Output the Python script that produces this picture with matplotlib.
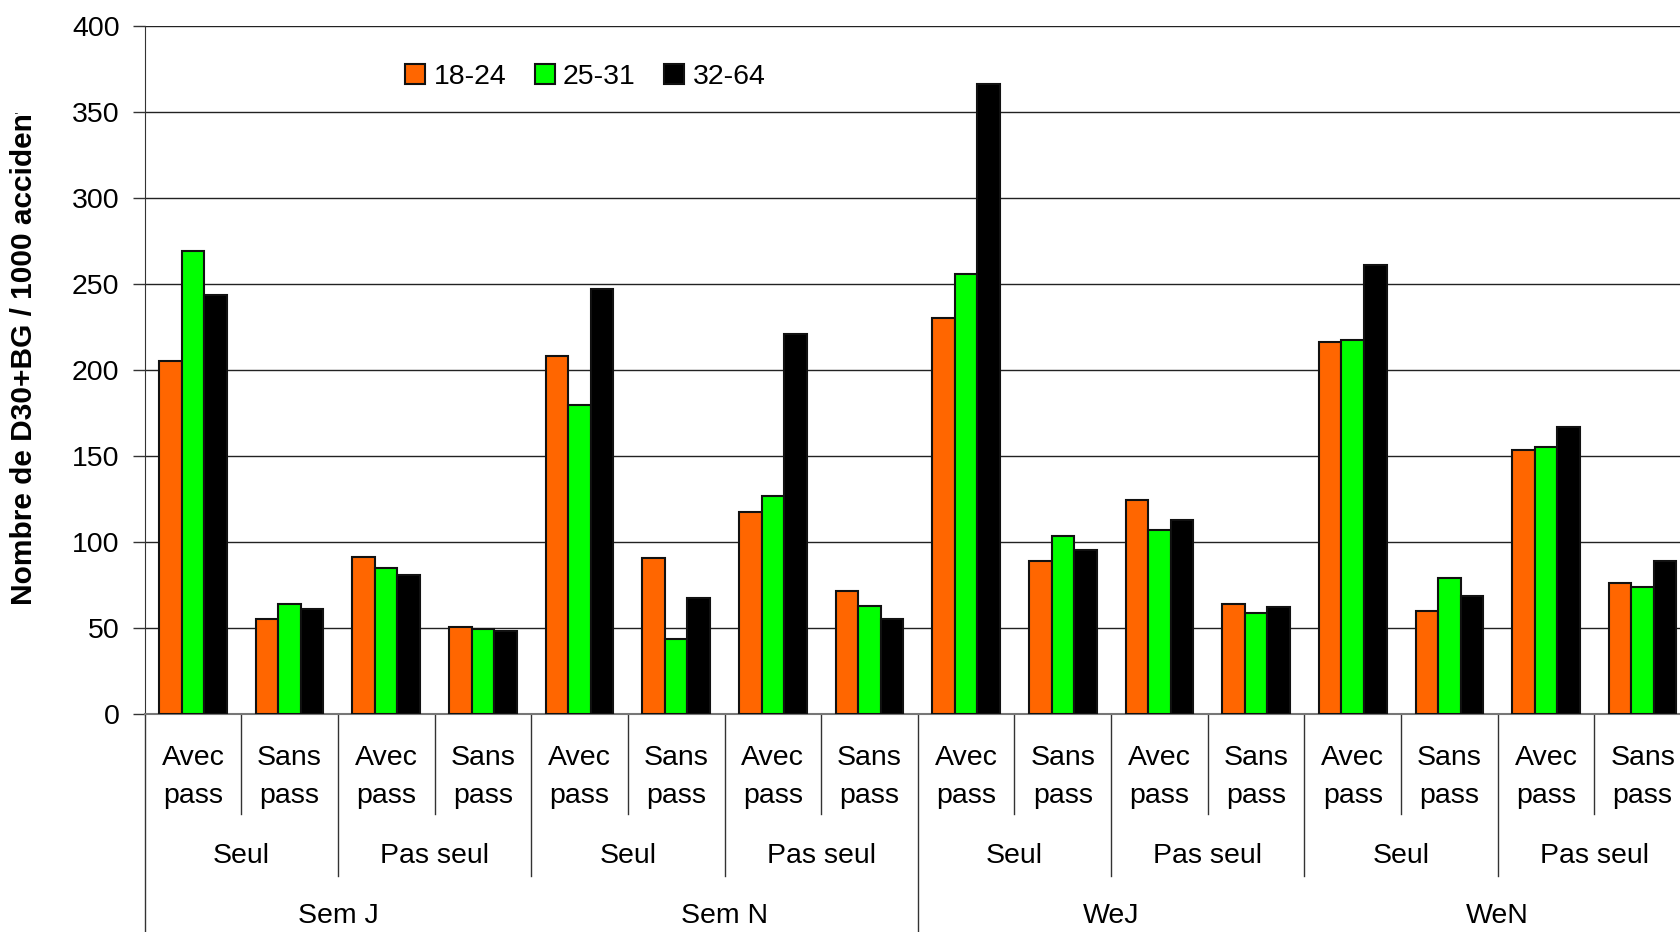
import numpy as np
import matplotlib
matplotlib.use("Agg")
import matplotlib.pyplot as plt
from matplotlib.transforms import Bbox

plt.rcParams['font.family'] = ['Liberation Sans', 'DejaVu Sans']

# data
series = ['18-24', '25-31', '32-64']
colors = ['#FF6600', '#00FF00', '#000000']
level1 = ['Avec\npass', 'Sans\npass'] * 8
level2 = ['Seul', 'Pas seul'] * 4
level3 = ['Sem J', 'Sem N', 'WeJ', 'WeN']

v_18_24 = [205, 54.8, 91, 50.5, 208, 90.3, 117, 71, 230, 88.5, 124, 63.6, 216, 59.8, 153.3, 76]
v_25_31 = [269, 64, 84.7, 49, 179.4, 43.6, 126.5, 62.3, 255.5, 103.4, 106.5, 58.6, 217.4, 79, 155, 73.5]
v_32_64 = [243.6, 61, 80.4, 48, 246.7, 67.3, 220.6, 54.8, 366, 95.3, 112.8, 61.7, 261, 68.5, 166.4, 88.5]
values = [v_18_24, v_25_31, v_32_64]

fs = 20.5
W, H = 1680, 932
fig = plt.figure(figsize=(W / 100, H / 100), dpi=100)
ax_left, ax_right, ax_top, ax_bot = 144.6, 1691.0, 25.7, 713.6
ax = fig.add_axes([ax_left / W, 1 - ax_bot / H, (ax_right - ax_left) / W, (ax_bot - ax_top) / H])

n = len(v_18_24)
x = np.arange(n) + 0.5
bw = 0.233
for i, (vals, c) in enumerate(zip(values, colors)):
    ax.bar(x + (i - 1) * bw, vals, bw, color=c, edgecolor='#111111', linewidth=1.5,
           label=series[i], zorder=3)

ax.set_xlim(0, n)
ax.set_ylim(0, 400)
ax.set_yticks(np.arange(0, 401, 50))
ax.tick_params(axis='y', labelsize=fs, length=9, width=1, color='#333333', pad=9)
ax.set_xticks([])
ax.yaxis.grid(True, color='#222222', linewidth=1, zorder=0)
for s in ['top', 'right']:
    ax.spines[s].set_visible(False)
ax.spines['left'].set_color('#333333')
ax.spines['bottom'].set_color('#777777')
ax.spines['bottom'].set_linewidth(1.5)

# multi-level category axis
trans = ax.get_xaxis_transform()
ah = ax_bot - ax_top
def ay(px):
    return -(px - ax_bot) / ah

for k in range(n + 1):
    if k % 8 == 0:
        y_end = ay(940)
    elif k % 2 == 0:
        y_end = ay(876)
    else:
        y_end = ay(814)
    ax.plot([k, k], [0, y_end], transform=trans, color='#333333', lw=1, clip_on=False)

for k in range(n):
    ax.text(k + 0.5, ay(777), level1[k], transform=trans, ha='center', va='center',
            fontsize=fs, linespacing=1.6)
for k, lab in enumerate(level2):
    ax.text(2 * k + 1, ay(856), lab, transform=trans, ha='center', va='center', fontsize=fs)
for k, lab in enumerate(level3):
    ax.text(4 * k + 2, ay(916), lab, transform=trans, ha='center', va='center', fontsize=fs)

leg = ax.legend(loc='center', bbox_to_anchor=(0.285, 0.925), ncol=3, frameon=False,
                fontsize=fs, handlelength=0.7, handleheight=0.7, handletextpad=0.3,
                columnspacing=1.0)

yl = fig.text(23.6 / W, 1 - 605 / H, 'Nombre de D30+BG / 1000 accidents', rotation=90,
              ha='center', va='bottom', fontsize=21.5, fontweight='bold', clip_on=True)
yl.set_clip_box(Bbox.from_extents(0, 0, 80, H - 113))

fig.savefig('out.png', dpi=100)
